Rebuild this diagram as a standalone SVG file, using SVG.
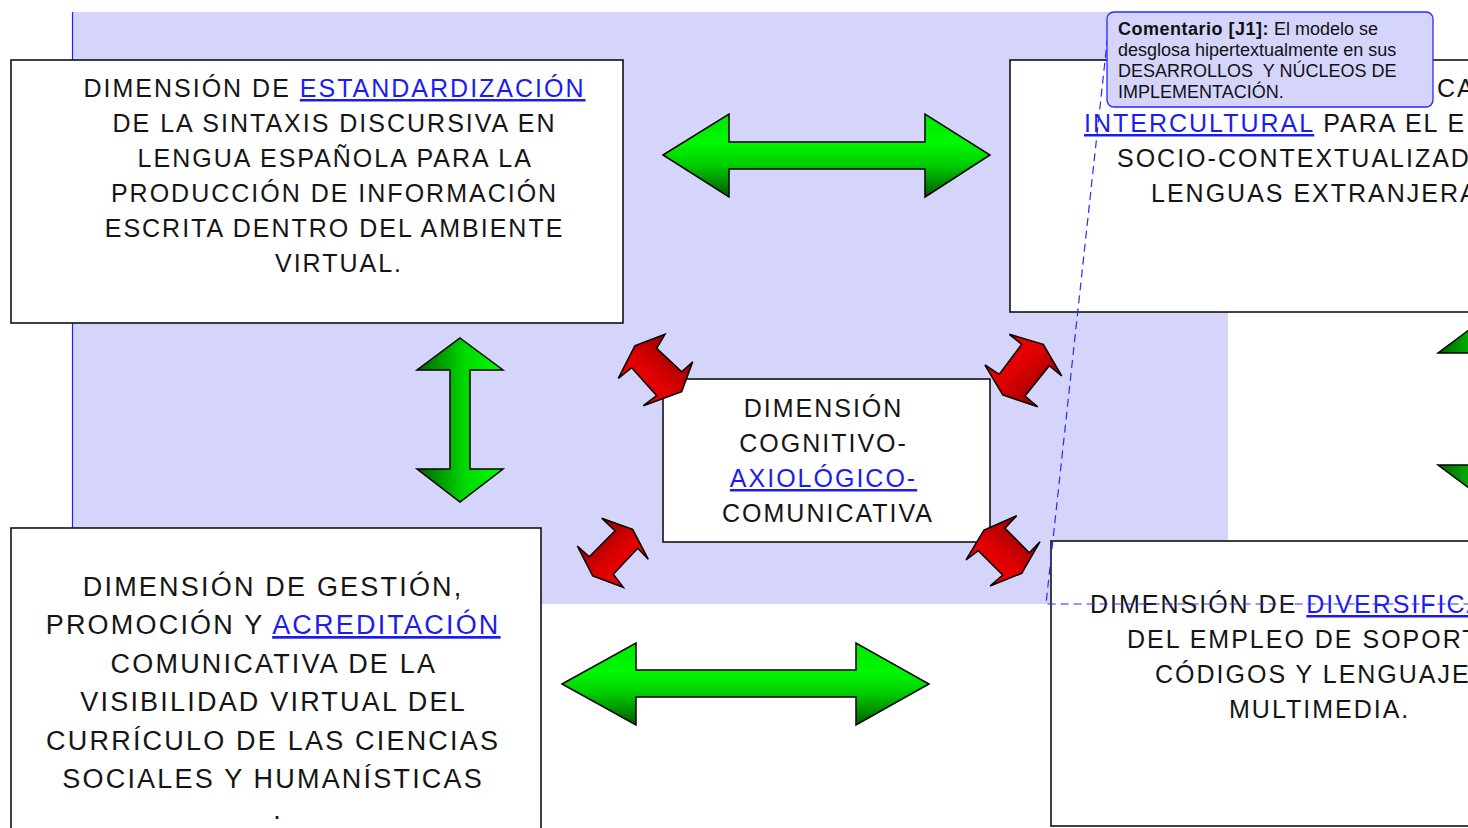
<svg xmlns="http://www.w3.org/2000/svg" width="1468" height="828" viewBox="0 0 1468 828">
<defs>
<style>
.box{fill:#fff;stroke:#111;stroke-width:1.6}
.t{font-family:"Liberation Sans",Arial,sans-serif;font-size:25px;letter-spacing:2px;fill:#151515}
.tb{font-size:27px;letter-spacing:2.2px}
.lk{fill:#1c1cf0;text-decoration:underline}
.c{font-family:"Liberation Sans",Arial,sans-serif;font-size:18px;fill:#111;white-space:pre}
.ga{stroke:#000;stroke-width:1.5;stroke-linejoin:miter}
.ra{stroke:#000;stroke-width:1.5;stroke-linejoin:miter}
</style>
<linearGradient id="gh" x1="0" y1="0" x2="0" y2="1">
<stop offset="0" stop-color="#00e800"/>
<stop offset="0.35" stop-color="#00f800"/>
<stop offset="0.6" stop-color="#00d000"/>
<stop offset="1" stop-color="#005c00"/>
</linearGradient>
<linearGradient id="gv" x1="0" y1="0" x2="1" y2="0">
<stop offset="0" stop-color="#006000"/>
<stop offset="0.55" stop-color="#00d800"/>
<stop offset="1" stop-color="#00ff00"/>
</linearGradient>
<linearGradient id="rSWNE" x1="0" y1="1" x2="1" y2="0">
<stop offset="0" stop-color="#ff0000"/>
<stop offset="0.45" stop-color="#e00000"/>
<stop offset="1" stop-color="#700000"/>
</linearGradient>
<linearGradient id="rNWdark" x1="0" y1="0" x2="1" y2="1">
<stop offset="0" stop-color="#700000"/>
<stop offset="0.55" stop-color="#e00000"/>
<stop offset="1" stop-color="#ff0000"/>
</linearGradient>
<linearGradient id="rNWbright" x1="0" y1="0" x2="1" y2="1">
<stop offset="0" stop-color="#ff0000"/>
<stop offset="0.45" stop-color="#e00000"/>
<stop offset="1" stop-color="#700000"/>
</linearGradient>
</defs>

<rect width="1468" height="828" fill="#fff"/>
<g id="comment-region">
<rect x="72" y="12" width="1156" height="592" fill="#d5d5fb"/>
<line x1="72.5" y1="12" x2="72.5" y2="530" stroke="#2020ff" stroke-width="1.2"/>
</g>

<g id="node-estandardizacion">
<rect class="box" x="11" y="60" width="612" height="263"/>
<text class="t" text-anchor="middle">
<tspan x="339" y="97">DIMENSIÓN DE <tspan class="lk">ESTANDARDIZACIÓN</tspan></tspan>
<tspan x="339" y="132">DE LA SINTAXIS DISCURSIVA EN</tspan>
<tspan x="339" y="167">LENGUA ESPAÑOLA PARA LA</tspan>
<tspan x="339" y="202">PRODUCCIÓN DE INFORMACIÓN</tspan>
<tspan x="339" y="237">ESCRITA DENTRO DEL AMBIENTE</tspan>
<tspan x="339" y="272">VIRTUAL.</tspan>
</text>
</g>

<g id="node-intercultural">
<rect class="box" x="1010" y="60" width="470" height="252"/>
<text class="t">
<tspan x="1437" y="97">CA</tspan>
<tspan x="1084" y="132"><tspan class="lk">INTERCULTURAL</tspan> PARA EL E</tspan>
<tspan x="1117" y="167">SOCIO-CONTEXTUALIZAD</tspan>
<tspan x="1151" y="202">LENGUAS EXTRANJERA</tspan>
</text>
</g>

<g id="node-central">
<rect class="box" x="663" y="379" width="327" height="163"/>
<text class="t" text-anchor="middle">
<tspan x="828" y="417">DIMENSIÓN</tspan>
<tspan x="828" y="452">COGNITIVO-</tspan>
<tspan x="828" y="487" class="lk">AXIOLÓGICO-</tspan>
<tspan x="828" y="522">COMUNICATIVA</tspan>
</text>
</g>

<g id="node-acreditacion">
<rect class="box" x="11" y="528" width="530" height="320"/>
<text class="t tb" text-anchor="middle">
<tspan x="278" y="596">DIMENSIÓN DE GESTIÓN,</tspan>
<tspan x="278" y="634">PROMOCIÓN Y <tspan class="lk">ACREDITACIÓN</tspan></tspan>
<tspan x="278" y="672.5">COMUNICATIVA DE LA</tspan>
<tspan x="278" y="711">VISIBILIDAD VIRTUAL DEL</tspan>
<tspan x="278" y="749.5">CURRÍCULO DE LAS CIENCIAS</tspan>
<tspan x="278" y="788">SOCIALES Y HUMANÍSTICAS</tspan>
<tspan x="278" y="819">.</tspan>
</text>
</g>

<g id="node-diversificacion">
<rect class="box" x="1051" y="541" width="430" height="285"/>
<text class="t">
<tspan x="1090" y="613">DIMENSIÓN DE <tspan class="lk">DIVERSIFICA</tspan></tspan>
<tspan x="1127" y="648">DEL EMPLEO DE SOPORT</tspan>
<tspan x="1155" y="683">CÓDIGOS Y LENGUAJE</tspan>
<tspan x="1229" y="718">MULTIMEDIA.</tspan>
</text>
</g>

<g id="connectors">
<path class="ga" fill="url(#gh)" d="M663,155 L729,114 L729,142 L925,142 L925,114 L990,155 L925,197 L925,169 L729,169 L729,197 Z"/>
<path class="ga" fill="url(#gh)" d="M562,684 L636,643 L636,670 L856,670 L856,643 L929,684 L856,725 L856,697 L636,697 L636,725 Z"/>
<path class="ga" fill="url(#gv)" d="M460,338 L503,370 L470,370 L470,469 L503,469 L460,502 L417,469 L450,469 L450,370 L417,370 Z"/>
<path class="ga" fill="url(#gv)" d="M1481,321 L1524,353 L1491,353 L1491,465 L1524,465 L1481,497 L1438,465 L1471,465 L1471,353 L1438,353 Z"/>
<path class="ra" fill="url(#rSWNE)" d="M635,345.7 L665,334.3 L656.7,348.3 L681.7,371.7 L692.7,361.7 L681.7,391.7 L643.3,405.7 L656.7,395.7 L631.7,367.7 L618.3,378.3 Z"/>
<path class="ra" fill="url(#rNWdark)" d="M601.7,518.3 L632.7,529.3 L648.3,559.3 L637.7,548.3 L613.3,574.3 L623.3,587.3 L592.7,576 L577.3,546 L589.3,556.7 L615,530.7 Z"/>
<path class="ra" fill="url(#rNWbright)" d="M1009.3,334.3 L1043.3,344.3 L1061.7,376 L1049.3,365.7 L1025,396 L1037.7,406.7 L1002.7,395 L985,365 L999.3,374.3 L1021.7,344.3 Z"/>
<path class="ra" fill="url(#rSWNE)" d="M1016.7,515.7 L1005,528.3 L1029.3,552.7 L1040,541.7 L1021.7,573.3 L990,586 L1002.7,575 L978.3,550.7 L966,560 L984,530 Z"/>
</g>

<g id="comment">
<polyline points="1109,24 1046,604 1468,604" fill="none" stroke="#2a2aff" stroke-width="1.2" stroke-dasharray="8 5"/>
<rect x="1107" y="12" width="326" height="95" rx="7" fill="#d5d5fb" stroke="#2a2aff" stroke-width="1.3"/>
<text class="c">
<tspan x="1118" y="35"><tspan font-weight="bold" letter-spacing="0.5">Comentario [J1]:</tspan> El modelo se</tspan>
<tspan x="1118" y="56">desglosa hipertextualmente en sus</tspan>
<tspan x="1118" y="77">DESARROLLOS  Y NÚCLEOS DE</tspan>
<tspan x="1118" y="98">IMPLEMENTACIÓN.</tspan>
</text>
</g>
</svg>
